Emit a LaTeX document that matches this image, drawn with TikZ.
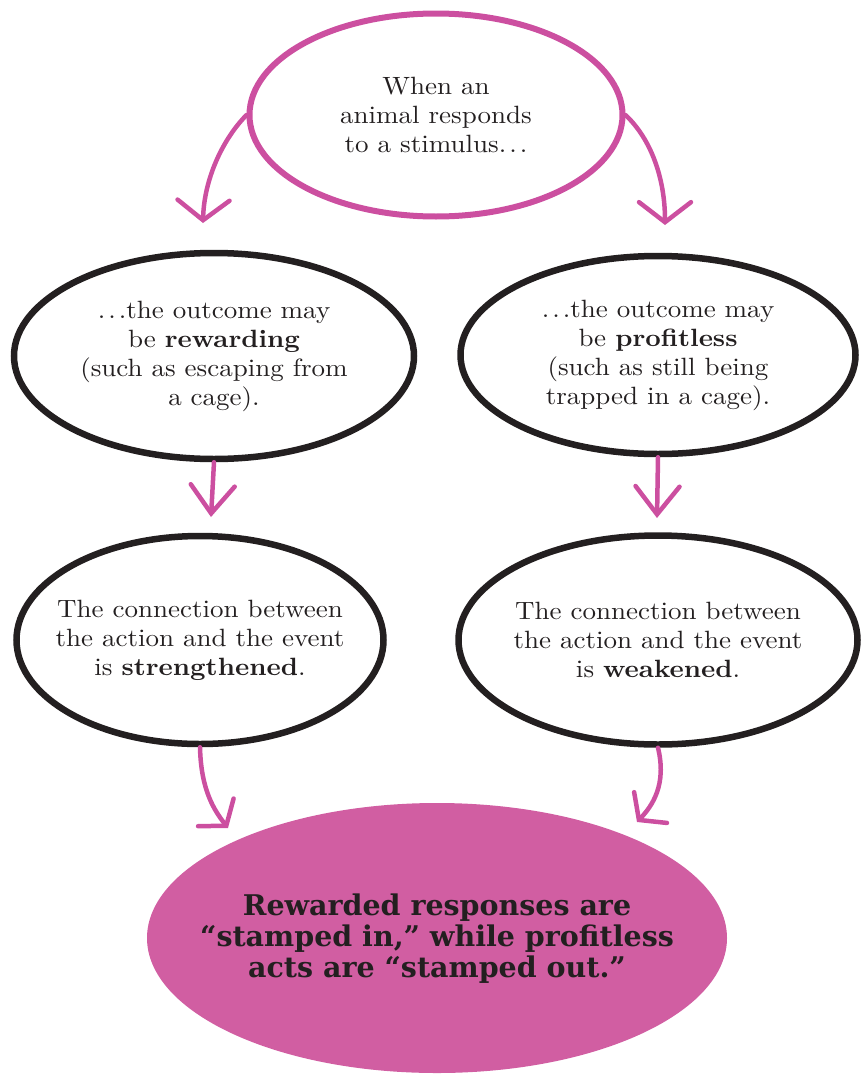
\documentclass[tikz,border=0pt]{standalone}
\usepackage{fontspec}
\setmainfont{lmroman10-regular.otf}[BoldFont=lmroman10-bold.otf, FakeStretch=1.08]
\newfontfamily\heavyfont{DejaVu Serif}
\usetikzlibrary{shapes.geometric,arrows.meta}
\definecolor{pinkline}{RGB}{204,79,160}
\definecolor{pinkfill}{RGB}{209,94,162}
\definecolor{ink}{RGB}{35,31,32}
\newcommand{\dotsep}{.\kern0.12em.\kern0.12em.}
\begin{document}
\begin{tikzpicture}[x=1pt,y=-1pt,
  txt/.style={font=\fontsize{25}{29}\selectfont, text=ink, align=center},
  blob/.style={ellipse, draw=ink, line width=6.5pt, inner sep=-60pt, txt},
  pinkblob/.style={ellipse, draw=pinkline, line width=6pt, inner sep=-60pt, txt},
  flow/.style={draw=pinkline, line width=4.5pt, line cap=round},
  headtop/.style={-{Straight Barb[length=20pt,width=52pt,line cap=round]}},
  headmid/.style={-{Straight Barb[length=28pt,width=44pt,line cap=round]}},
  headlow/.style={-{Straight Barb[length=17pt,width=45pt,line cap=round]}}]
\useasboundingbox (0,0) rectangle (865,1076);

\node[pinkblob, minimum width=373pt, minimum height=203pt] (t) at (436,115)
  {When an\\animal responds\\to a stimulus\dotsep};
\node[blob, minimum width=400pt, minimum height=206pt] (ml) at (214,356)
  {\dotsep the outcome may\\be \textbf{rewarding}\\(such as escaping from\\a cage).};
\node[blob, minimum width=395pt, minimum height=198pt] (mr) at (658,355)
  {\dotsep the outcome may\\be \textbf{profitless}\\(such as still being\\trapped in a cage).};
\node[blob, minimum width=367pt, minimum height=208pt] (ll) at (200,640)
  {The connection between\\the action and the event\\is \textbf{strengthened}.};
\node[blob, minimum width=399pt, minimum height=209pt] (lr) at (658,640)
  {The connection between\\the action and the event\\is \textbf{weakened}.};
\node[ellipse, fill=pinkfill, minimum width=580pt, minimum height=270pt, inner sep=0pt] (b) at (437,938) {};
\node[font=\heavyfont\bfseries\fontsize{28.5}{31}\selectfont, text=ink, align=center] (btxt) at (437,939)
  {Rewarded responses are\\“stamped in,” while profitless\\acts are “stamped out.”};

\coordinate (t1) at (203,223);
\coordinate (t2) at (665,225);
\coordinate (m1) at (211,517);
\coordinate (m2) at (657,518);
\coordinate (l1) at (228,828);
\coordinate (l2) at (637,822);

\draw[flow, headtop] (t.west) .. controls (222,140) and (204,180) .. (t1);
\draw[flow, headtop] (t.east) .. controls (652,140) and (665,180) .. (t2);
\draw[flow, headmid] (ml.south) -- (m1);
\draw[flow, headmid] (mr.south) -- (m2);
\draw[flow, headlow] (ll.south) .. controls (201,790) and (214,810) .. (l1);
\draw[flow, headlow] (lr.south) .. controls (667,785) and (652,806) .. (l2);
\end{tikzpicture}
\end{document}
